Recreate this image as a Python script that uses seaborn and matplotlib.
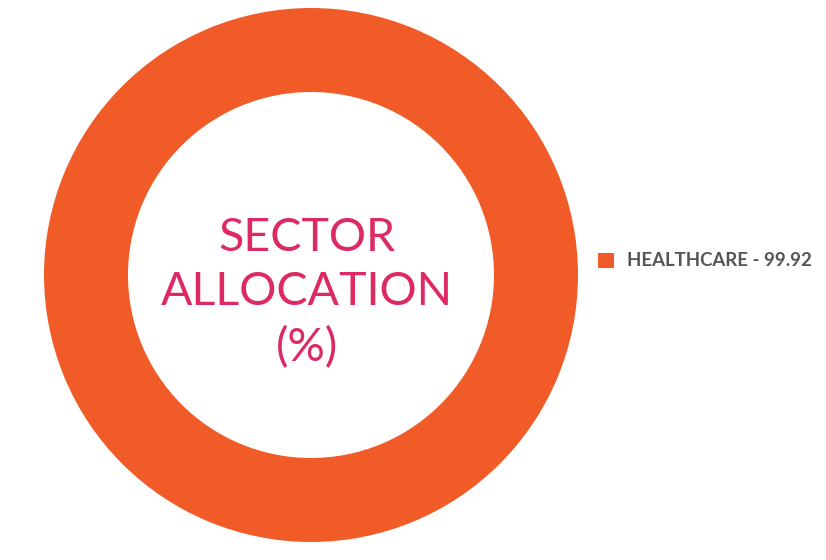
import matplotlib
matplotlib.use("Agg")
import matplotlib.pyplot as plt
import seaborn as sns

sns.set_theme(style="white")
plt.rcParams['font.family'] = ['Lato', 'DejaVu Sans']

sectors = ["HEALTHCARE"]
values = [99.92]
colors = ["#F15B27"]
center_title = "SECTOR\nALLOCATION\n(%)"

W, H = 826, 560
fig = plt.figure(figsize=(W / 100, H / 100), dpi=100)
fig.patch.set_facecolor("white")

cx, cy, R = 311, 275, 267
ax = fig.add_axes([(cx - R) / W, (H - cy - R) / H, 2 * R / W, 2 * R / H])
wedges, _ = ax.pie(values, colors=colors, radius=1.0, startangle=90,
                   counterclock=False,
                   wedgeprops=dict(width=1 - 183 / 267, edgecolor="none"))
ax.set_xlim(-1, 1)
ax.set_ylim(-1, 1)
ax.set_aspect("equal")
ax.axis("off")

ax.text(-0.015, -0.068, center_title, ha="center", va="center", color="#DD2A63",
        fontsize=33.5, linespacing=1.36, fontweight="normal")

labels = [f"{s} - {v:.2f}" for s, v in zip(sectors, values)]
leg = fig.legend(wedges, labels, loc="center left",
                 bbox_to_anchor=(598 / W, 1 - 261 / H), frameon=False,
                 borderpad=0, borderaxespad=0,
                 handlelength=0.87, handleheight=0.87, handletextpad=0.7,
                 prop=dict(weight="bold", size=13.4))
for t in leg.get_texts():
    t.set_color("#555555")

fig.savefig("out.png", dpi=100, facecolor="white")
